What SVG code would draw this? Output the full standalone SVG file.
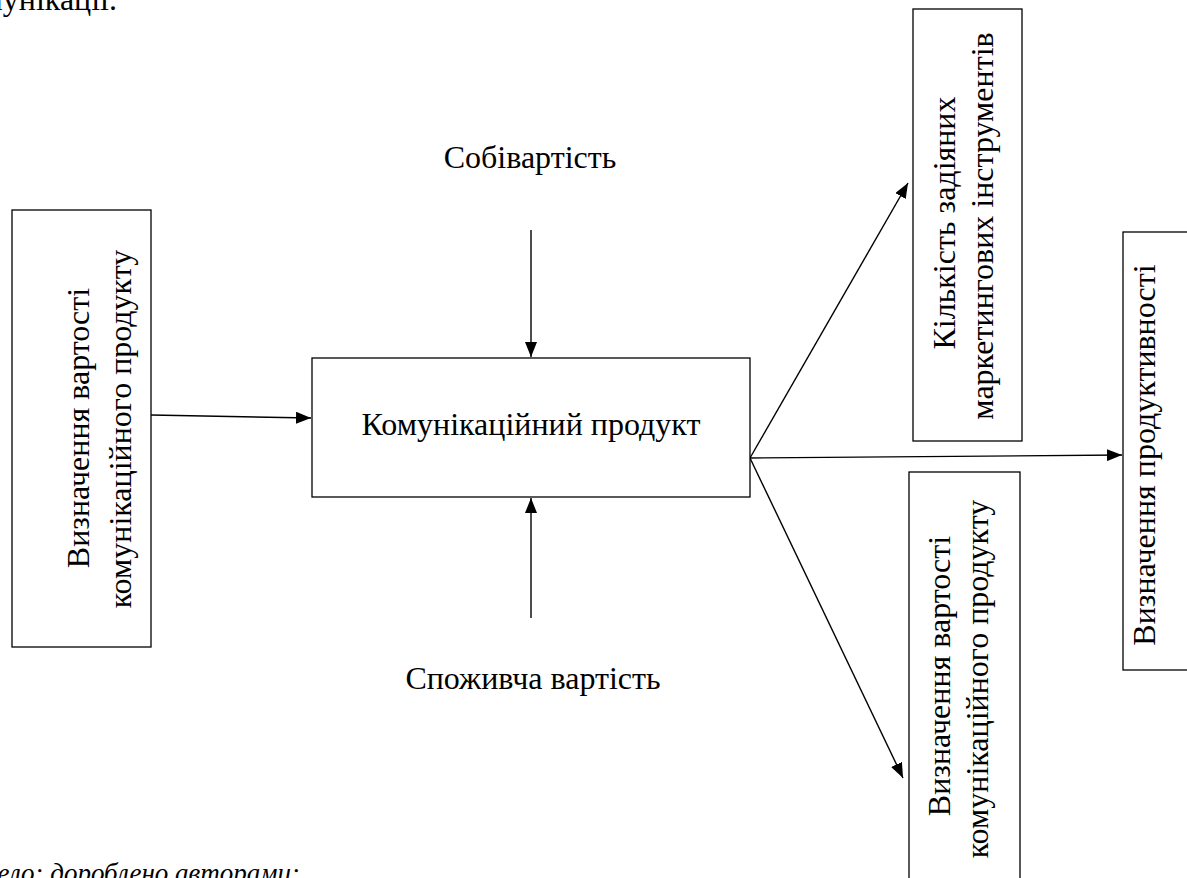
<svg xmlns="http://www.w3.org/2000/svg" width="1187" height="878" viewBox="0 0 1187 878">
<style>
.box{fill:#fff;stroke:#000;stroke-width:1.3}
text{font-family:"Times New Roman","Liberation Serif",Tinos,"DejaVu Serif",serif;font-size:32px;fill:#000}
.m{text-anchor:middle}
.c{stroke:#000;stroke-width:1.4;fill:none}
</style>
<defs>
<marker id="ah" viewBox="0 0 15 12" refX="15" refY="6" markerWidth="15" markerHeight="12" markerUnits="userSpaceOnUse" orient="auto">
<path d="M0,0 L15,6 L0,12 z" fill="#000"/>
</marker>
</defs>
<rect width="1187" height="878" fill="#fff"/>
<text x="117" y="10" text-anchor="end">комунікації.</text>
<text x="300" y="882" text-anchor="end" font-style="italic" style="font-size:27px">Джерело: дороблено авторами:</text>

<g id="connectors">
<line class="c" x1="151" y1="415" x2="311" y2="418" marker-end="url(#ah)"/>
<line class="c" x1="531" y1="230" x2="531" y2="357" marker-end="url(#ah)"/>
<line class="c" x1="531" y1="618" x2="531" y2="498" marker-end="url(#ah)"/>
<line class="c" x1="750" y1="458" x2="908" y2="183" marker-end="url(#ah)"/>
<line class="c" x1="750" y1="458" x2="1122" y2="455" marker-end="url(#ah)"/>
<line class="c" x1="750" y1="458" x2="903" y2="778" marker-end="url(#ah)"/>
</g>

<g id="n-left">
<rect class="box" x="12" y="210" width="139" height="437"/>
<text class="m" transform="translate(89,428) rotate(-90)">Визначення вартості</text>
<text class="m" transform="translate(131,429) rotate(-90)">комунікаційного продукту</text>
</g>

<g id="n-center">
<rect class="box" x="312" y="358" width="438" height="139"/>
<text class="m" x="531" y="435">Комунікаційний продукт</text>
</g>

<g id="n-cost">
<text class="m" x="530" y="168">Собівартість</text>
</g>

<g id="n-consumer">
<text class="m" x="533" y="689">Споживча вартість</text>
</g>

<g id="n-tools">
<rect class="box" x="913" y="9" width="109" height="432"/>
<text class="m" transform="translate(955,223) rotate(-90)">Кількість задіяних</text>
<text class="m" transform="translate(993,226) rotate(-90)">маркетингових інструментів</text>
</g>

<g id="n-productivity">
<rect class="box" x="1123" y="232" width="70" height="438"/>
<text class="m" transform="translate(1155,455) rotate(-90)">Визначення продуктивності</text>
</g>

<g id="n-value">
<rect class="box" x="909" y="472" width="111" height="420"/>
<text class="m" transform="translate(950,676) rotate(-90)">Визначення вартості</text>
<text class="m" transform="translate(988,679) rotate(-90)">комунікаційного продукту</text>
</g>
</svg>
